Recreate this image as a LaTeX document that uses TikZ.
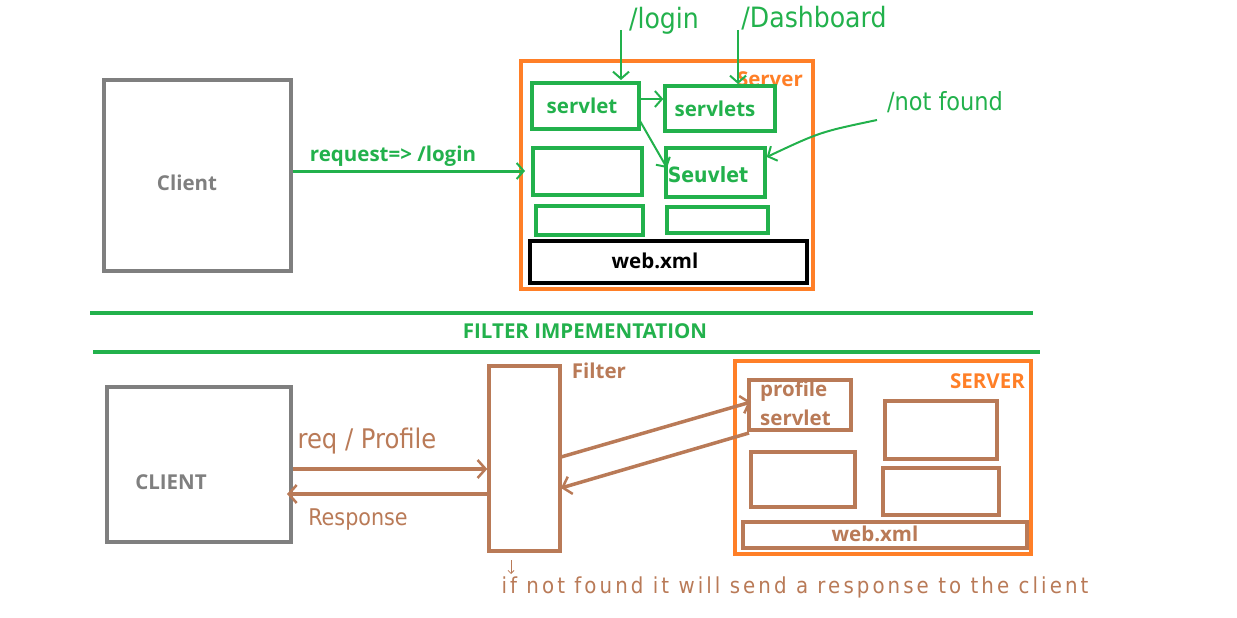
\documentclass[tikz,border=0pt]{standalone}
\usepackage{fontspec}
\setmainfont{Open Sans}
\newfontfamily\handfont{DejaVu Sans Condensed}
\usetikzlibrary{arrows.meta}
\definecolor{pgreen}{HTML}{22B14C}
\definecolor{porange}{HTML}{FF7F27}
\definecolor{pbrown}{HTML}{B97A57}
\definecolor{pgray}{HTML}{7F7F7F}
\tikzset{
  box/.style={draw, rectangle, inner sep=0pt, line width=3.5pt},
  gbox/.style={box, draw=pgreen},
  bbox/.style={box, draw=pbrown},
  obox/.style={box, draw=porange},
  graybox/.style={box, draw=pgray},
  lbl/.style={font=\bfseries\fontsize{20.5}{23}\selectfont, inner sep=0pt},
  hand/.style={font=\handfont\fontsize{25}{27}\selectfont, inner sep=0pt},
  garrow/.style={draw=pgreen, line width=3pt, -{Straight Barb[length=7pt,width=16pt,line width=2pt]}},
  thinarrow/.style={draw=pgreen, line width=2pt, -{Straight Barb[length=7pt,width=16pt,line width=2pt]}},
  barrow/.style={draw=pbrown, line width=3.5pt, -{Straight Barb[length=8pt,width=18pt,line width=2.5pt]}},
}
\begin{document}
\begin{tikzpicture}[x=1pt,y=-1pt]
\useasboundingbox (0,0) rectangle (1237,618);
% ---------- top ----------
\node[graybox, minimum width=187pt, minimum height=191pt] (client) at (197.5,175.5) {};
\node[lbl, text=pgray] (clientlbl) at (187,183) {Client};
\node[obox, minimum width=292pt, minimum height=228pt] (server) at (667,175) {};
\node[lbl, text=porange, anchor=east] (serverlbl) at (803,79) {Server};
\node[gbox, minimum width=107pt, minimum height=46pt] (s1) at (585.5,106) {};
\node[lbl, text=pgreen] at (582,106) {servlet};
\node[gbox, minimum width=110pt, minimum height=45pt] (s2) at (720,108.5) {};
\node[lbl, text=pgreen] at (715,109) {servlets};
\node[gbox, minimum width=109pt, minimum height=47pt] (s3) at (587.5,171.5) {};
\node[gbox, minimum width=99pt, minimum height=49pt] (s4) at (715.5,172.5) {};
\node[hand, text=pgreen, font=\handfont\bfseries\fontsize{21}{23}\selectfont] at (708,175) {Seuvlet};
\node[gbox, minimum width=107pt, minimum height=29pt] (s5) at (589.5,220.5) {};
\node[gbox, minimum width=101pt, minimum height=26pt] (s6) at (717.5,220) {};
\node[box, draw=black, minimum width=277pt, minimum height=42pt] (webxml) at (668.5,262) {};
\node[lbl] at (655,261) {web.xml};
% request arrow
\coordinate (reqend) at (525,171);
\draw[garrow] (client.east |- reqend) -- (reqend);
\node[lbl, text=pgreen] (reqlbl) at (393,156) {request=> /login};
% internal arrows
\coordinate (a1) at (639,99);
\draw[thinarrow] (a1) -- (s2.west |- a1);
\coordinate (a2) at (640,121);
\coordinate (a3) at (667,168);
\draw[thinarrow] (a2) -- (a3);
% handwritten labels
\node[hand, text=pgreen, font=\handfont\fontsize{28}{30}\selectfont] (loginlbl) at (664,21) {/login};
\coordinate (l1) at (621,30);
\draw[thinarrow] (l1) -- (621,80);
\node[hand, text=pgreen, font=\handfont\fontsize{28}{30}\selectfont] (dashlbl) at (814,18) {/Dashboard};
\coordinate (d1) at (738,30);
\draw[thinarrow] (d1) -- (738,84);
\node[hand, text=pgreen] (nflbl) at (945,102) {/not found};
\coordinate (n1) at (877,120);
\draw[thinarrow] (n1) .. controls (820,132) .. (s4.east |- 0,157);
% ---------- separator ----------
\coordinate (sepA1) at (90,313);
\coordinate (sepA2) at (1033,313);
\coordinate (sepB1) at (93,352);
\coordinate (sepB2) at (1040,352);
\draw[pgreen, line width=3.5pt] (sepA1) -- (sepA2);
\draw[pgreen, line width=3.5pt] (sepB1) -- (sepB2);
\node[lbl, text=pgreen] (title) at (585,331) {FILTER IMPEMENTATION};
% ---------- bottom ----------
\node[graybox, minimum width=184pt, minimum height=155pt] (client2) at (199,464.5) {};
\node[lbl, text=pgray] at (171,482) {CLIENT};
\node[bbox, minimum width=71pt, minimum height=185pt] (filter) at (524.5,458.5) {};
\node[lbl, text=pbrown] at (599,371) {Filter};
\node[obox, minimum width=296pt, minimum height=193pt] (server2) at (883,457.5) {};
\node[lbl, text=porange, anchor=east] at (1025,381) {SERVER};
\node[bbox, minimum width=102pt, minimum height=50pt] (ps) at (800,405) {};
\node[lbl, text=pbrown, anchor=north west, align=left, font=\bfseries\fontsize{20.5}{29}\selectfont] at (760,381) {profile\\servlet};
\node[bbox, minimum width=112pt, minimum height=58pt] (b1) at (941,430) {};
\node[bbox, minimum width=104pt, minimum height=55pt] (b2) at (803,479.5) {};
\node[bbox, minimum width=116pt, minimum height=47pt] (b3) at (941,491.5) {};
\node[bbox, minimum width=284pt, minimum height=26pt] (wx2) at (885,535) {};
\node[lbl, text=pbrown] at (875,534) {web.xml};
% arrows bottom
\coordinate (r1) at (0,469);
\draw[barrow] (client2.east |- r1) -- (filter.west |- r1);
\node[hand, text=pbrown, font=\handfont\fontsize{27}{29}\selectfont] at (367,441) {req / Profile};
\coordinate (r2) at (0,494);
\draw[barrow] (filter.west |- r2) -- (287,494);
\node[hand, text=pbrown, font=\handfont\fontsize{23}{25}\selectfont] at (358,520) {Response};
\coordinate (f1) at (561,457);
\coordinate (f2) at (751,402);
\draw[barrow] (f1) -- (f2);
\coordinate (f3) at (749,433);
\coordinate (f4) at (561,488);
\draw[barrow] (f3) -- (f4);
% bottom note
\node[font=\handfont\fontsize{22}{24}\selectfont\addfontfeature{LetterSpace=14}, text=pbrown, inner sep=0pt] (note) at (795,587) {if not found it will send a response to the client};
\coordinate (t1) at (511,560);
\draw[pbrown, line width=0.8pt, -{Straight Barb[length=3pt,width=6pt]}] (t1) -- (511,574);
\end{tikzpicture}
\end{document}
